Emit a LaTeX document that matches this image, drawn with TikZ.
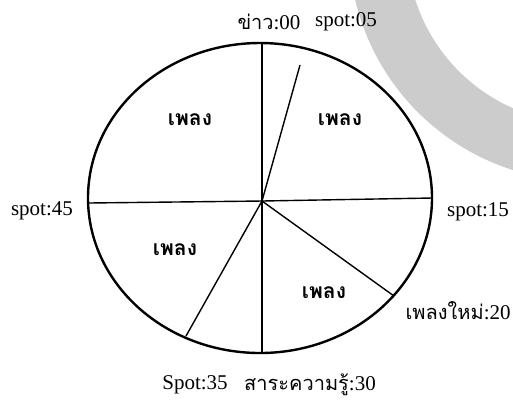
\documentclass[tikz,border=0pt]{standalone}
\usepackage{fontspec}
\setmainfont{Liberation Serif}
\newfontfamily\thaifont[Script=Thai]{Loma}
\usepackage{tikz}
\tikzset{
  rim/.style   = {draw, line width=1.2pt},
  spoke/.style = {draw, line width=0.7pt},
  tag/.style   = {inner sep=0pt, font=\fontsize{10.5}{12}\selectfont},
  song/.style  = {inner sep=0pt, font=\fontsize{10.5}{12}\selectfont\thaifont\bfseries}
}
\newcommand{\thword}[1]{{\fontsize{10}{12}\selectfont\thaifont #1}}

\begin{document}
\begin{tikzpicture}[x=0.5pt, y=-0.5pt]
        \useasboundingbox (0,0) rectangle (513,404);
        \begin{scope}
          \clip (0,0) rectangle (513,404);
          \fill[black!20, even odd rule] (584,-54) circle [radius=235] (584,-54) circle [radius=177];
        \end{scope}
        \coordinate (c) at (260,198);
        \draw[rim] (c) ellipse [x radius=172, y radius=155];
        \coordinate (o)   at (262,201);
        \coordinate (p00) at (262,43);
        \coordinate (p05) at (300,65);
        \coordinate (p15) at (432,198);
        \coordinate (p20) at (394,296);
        \coordinate (p30) at (262,353);
        \coordinate (p35) at (186,336);
        \coordinate (p45) at (88,203);
        \foreach \p in {p00,p05,p15,p20,p30,p35,p45}
          \draw[spoke] (o) -- (\p);
        \node[tag] (t00) at (269,22)  {\thword{ข่าว}:00};
        \node[tag] (t05) at (346,22)  {spot:05};
        \node[tag] (t15) at (478,212) {spot:15};
        \node[tag, anchor=east] (t20) at (511,311) {\thword{เพลงใหม่}:20};
        \node[tag] (t30) at (310,385) {\thword{สาระความรู้}:30};
        \node[tag] (t35) at (195,385) {Spot:35};
        \node[tag] (t45) at (42,211)  {spot:45};
        \node[song] (s1) at (190,120) {เพลง};
        \node[song] (s2) at (340,120) {เพลง};
        \node[song] (s3) at (324,293) {เพลง};
        \node[song] (s4) at (175,250) {เพลง};
      \end{tikzpicture}
\end{document}
